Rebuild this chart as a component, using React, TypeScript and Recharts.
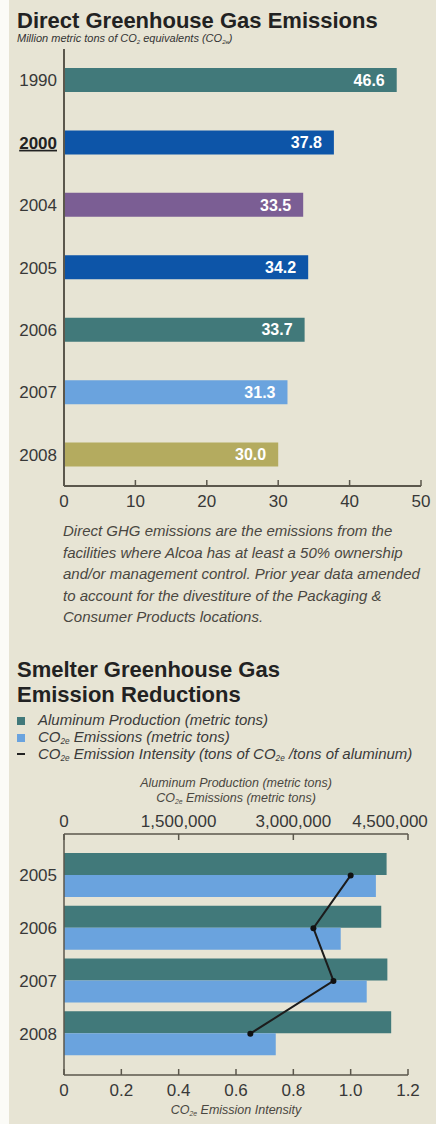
import React from "react";
import {
  BarChart, Bar, ComposedChart, Line, XAxis, YAxis, Cell, LabelList,
} from "recharts";

// Direct GHG emissions, million metric tons CO2e
const years = ["1990", "2000", "2004", "2005", "2006", "2007", "2008"];
const emissions = [46.6, 37.8, 33.5, 34.2, 33.7, 31.3, 30.0];
const emissionTicks = [0, 10, 20, 30, 40, 50];

// Smelter reductions
const smelterYears = ["2005", "2006", "2007", "2008"];
const aluminumProduction = [4220000, 4150000, 4230000, 4280000];
const co2Emissions = [4080000, 3620000, 3960000, 2770000];
const emissionIntensity = [1.0, 0.87, 0.94, 0.65];
const productionTicks = [0, 1500000, 3000000, 4500000];
const intensityTicks = [0, 0.2, 0.4, 0.6, 0.8, 1.0, 1.2];

const BG = "#e7e4d4";
const AXIS = "#5b574c";
const TICK_TEXT = "#383838";
const TEAL = "#41797a";
const DARK_BLUE = "#0d55a8";
const PURPLE = "#7b5e94";
const LIGHT_BLUE = "#6aa3de";
const OLIVE = "#b4ab5f";
const BAR_COLORS = [TEAL, DARK_BLUE, PURPLE, DARK_BLUE, TEAL, LIGHT_BLUE, OLIVE];
const FONT = "'Liberation Sans', Arial, Helvetica, sans-serif";

const emissionRows = years.map((year, i) => ({ year, value: emissions[i] }));
const smelterRows = smelterYears.map((year, i) => ({
  year,
  production: aluminumProduction[i],
  co2: co2Emissions[i],
  intensity: emissionIntensity[i],
}));

// x-axis ticks with the tick mark pointing up into the plot
function BottomTick(props: any) {
  const { x, y, payload, fmt } = props;
  return (
    <g>
      <line x1={x} x2={x} y1={y} y2={y - 6} stroke={AXIS} strokeWidth={1.5} />
      <text x={x} y={y + 21} textAnchor="middle" fontSize={17} fill={TICK_TEXT} fontFamily={FONT}>
        {fmt ? fmt(payload.value) : payload.value}
      </text>
    </g>
  );
}

// top x-axis ticks, mark pointing down into the plot; the last label is
// pulled left so it stays on the page
function TopTick(props: any) {
  const { x, y, payload, fmt, index, visibleTicksCount } = props;
  const last = index === visibleTicksCount - 1;
  return (
    <g>
      <line x1={x} x2={x} y1={y} y2={y + 6} stroke={AXIS} strokeWidth={1.5} />
      <text x={last ? x - 18 : x} y={y - 7} textAnchor="middle" fontSize={17} fill={TICK_TEXT} fontFamily={FONT}>
        {fmt ? fmt(payload.value) : payload.value}
      </text>
    </g>
  );
}

function YearTick(props: any) {
  const { x, y, payload } = props;
  const base = payload.value === "2000";
  return (
    <text
      x={x}
      y={y}
      dy="0.36em"
      textAnchor="end"
      fontSize={17}
      fill={base ? "#222" : TICK_TEXT}
      fontWeight={base ? "bold" : "normal"}
      textDecoration={base ? "underline" : "none"}
      fontFamily={FONT}
    >
      {payload.value}
    </text>
  );
}

const Sub = ({ children }: { children: React.ReactNode }) => (
  <sub style={{ fontSize: "0.55em", verticalAlign: "-0.3em", lineHeight: 0 }}>{children}</sub>
);

const legendRow = { position: "absolute" as const, left: 17, display: "flex", alignItems: "center", height: 16, whiteSpace: "nowrap" as const };

export default function App() {
  return (
    <div style={{ position: "relative", width: 436, height: 1124, background: "#fbfbf7", fontFamily: FONT, overflow: "hidden" }}>
      <style>{"body{margin:0}"}</style>
      <div style={{ position: "absolute", left: 9, top: 0, width: 427, height: 1124, background: BG }} />

      <div style={{ position: "absolute", left: 17, top: 10, fontSize: 22, lineHeight: "22px", fontWeight: "bold", color: "#222", whiteSpace: "nowrap" }}>
        Direct Greenhouse Gas Emissions
      </div>
      <div style={{ position: "absolute", left: 17, top: 33, fontSize: 11, lineHeight: "11px", fontStyle: "italic", color: "#333", whiteSpace: "nowrap" }}>
        Million metric tons of CO<Sub>2</Sub> equivalents (CO<Sub>2e</Sub>)
      </div>

      <div style={{ position: "absolute", left: 0, top: 0 }}>
        <BarChart
          width={436}
          height={520}
          layout="vertical"
          data={emissionRows}
          margin={{ top: 49, right: 15, bottom: 4, left: 0 }}
        >
          <XAxis
            type="number"
            domain={[0, 50]}
            ticks={emissionTicks}
            interval={0}
            height={30}
            tickLine={false}
            tickSize={0}
            tickMargin={0}
            axisLine={{ stroke: AXIS, strokeWidth: 2 }}
            tick={(p: any) => <BottomTick {...p} />}
          />
          <YAxis
            type="category"
            dataKey="year"
            width={64}
            tickLine={false}
            tickSize={0}
            tickMargin={7}
            axisLine={{ stroke: AXIS, strokeWidth: 2 }}
            tick={(p: any) => <YearTick {...p} />}
          />
          <Bar dataKey="value" barSize={24} isAnimationActive={false}>
            {emissionRows.map((_, i) => (
              <Cell key={i} fill={BAR_COLORS[i]} />
            ))}
            <LabelList
              dataKey="value"
              position="insideRight"
              offset={12}
              fill="#fff"
              fontSize={16}
              fontWeight="bold"
              fontFamily={FONT}
              formatter={(v: any) => Number(v).toFixed(1)}
            />
          </Bar>
        </BarChart>
      </div>

      <div style={{ position: "absolute", left: 63, top: 520, fontSize: 15, lineHeight: "21.5px", fontStyle: "italic", color: "#4a4741", whiteSpace: "nowrap" }}>
        Direct GHG emissions are the emissions from the<br />
        facilities where Alcoa has at least a 50% ownership<br />
        and/or management control. Prior year data amended<br />
        to account for the divestiture of the Packaging &amp;<br />
        Consumer Products locations.
      </div>

      <div style={{ position: "absolute", left: 17, top: 657, fontSize: 22, lineHeight: "25px", fontWeight: "bold", color: "#222", whiteSpace: "nowrap" }}>
        Smelter Greenhouse Gas<br />
        Emission Reductions
      </div>

      <div style={{ fontSize: 15, lineHeight: "16px", fontStyle: "italic", color: "#3a3a3a" }}>
        <div style={{ ...legendRow, top: 712 }}>
          <span style={{ width: 8, height: 8, background: TEAL, marginRight: 13, marginTop: 1 }} />
          <span>Aluminum Production (metric tons)</span>
        </div>
        <div style={{ ...legendRow, top: 729 }}>
          <span style={{ width: 8, height: 8, background: LIGHT_BLUE, marginRight: 13, marginTop: 1 }} />
          <span>CO<Sub>2e</Sub> Emissions (metric tons)</span>
        </div>
        <div style={{ ...legendRow, top: 746 }}>
          <span style={{ width: 8, height: 2.5, background: "#222", marginRight: 13 }} />
          <span>CO<Sub>2e</Sub> Emission Intensity (tons of CO<Sub>2e</Sub> /tons of aluminum)</span>
        </div>
      </div>

      <div style={{ position: "absolute", left: 64, top: 776, width: 344, textAlign: "center", fontSize: 12.5, lineHeight: "15px", fontStyle: "italic", color: "#4a4741" }}>
        Aluminum Production (metric tons)<br />
        CO<Sub>2e</Sub> Emissions (metric tons)
      </div>

      <div style={{ position: "absolute", left: 0, top: 780 }}>
        <ComposedChart
          width={436}
          height={340}
          layout="vertical"
          data={smelterRows}
          barGap={0}
          margin={{ top: 24, right: 28, bottom: 15, left: 0 }}
        >
          <XAxis
            xAxisId="prod"
            orientation="top"
            type="number"
            domain={[0, 4500000]}
            ticks={productionTicks}
            interval={0}
            height={30}
            tickLine={false}
            tickSize={0}
            tickMargin={0}
            axisLine={{ stroke: AXIS, strokeWidth: 1.5 }}
            tick={(p: any) => <TopTick {...p} fmt={(v: number) => v.toLocaleString("en-US")} />}
          />
          <XAxis
            xAxisId="int"
            orientation="bottom"
            type="number"
            domain={[0, 1.2]}
            ticks={intensityTicks}
            interval={0}
            height={30}
            tickLine={false}
            tickSize={0}
            tickMargin={0}
            axisLine={{ stroke: AXIS, strokeWidth: 1.5 }}
            tick={(p: any) => <BottomTick {...p} fmt={(v: number) => (v === 0 ? "0" : v.toFixed(1))} />}
          />
          <YAxis
            type="category"
            dataKey="year"
            width={64}
            padding={{ top: 15, bottom: 15 }}
            tickLine={false}
            tickSize={0}
            tickMargin={7}
            axisLine={{ stroke: AXIS, strokeWidth: 1.5 }}
            tick={(p: any) => <YearTick {...p} />}
          />
          <Bar xAxisId="prod" dataKey="production" fill={TEAL} barSize={22} isAnimationActive={false} />
          <Bar xAxisId="prod" dataKey="co2" fill={LIGHT_BLUE} barSize={22} isAnimationActive={false} />
          <Line
            xAxisId="int"
            dataKey="intensity"
            type="linear"
            stroke="#1c1c1c"
            strokeWidth={2}
            dot={{ r: 3, fill: "#111", stroke: "#111", strokeWidth: 0 }}
            isAnimationActive={false}
          />
        </ComposedChart>
      </div>

      <div style={{ position: "absolute", left: 64, top: 1103, width: 344, textAlign: "center", fontSize: 12.5, lineHeight: "15px", fontStyle: "italic", color: "#4a4741" }}>
        CO<Sub>2e</Sub> Emission Intensity
      </div>
    </div>
  );
}
